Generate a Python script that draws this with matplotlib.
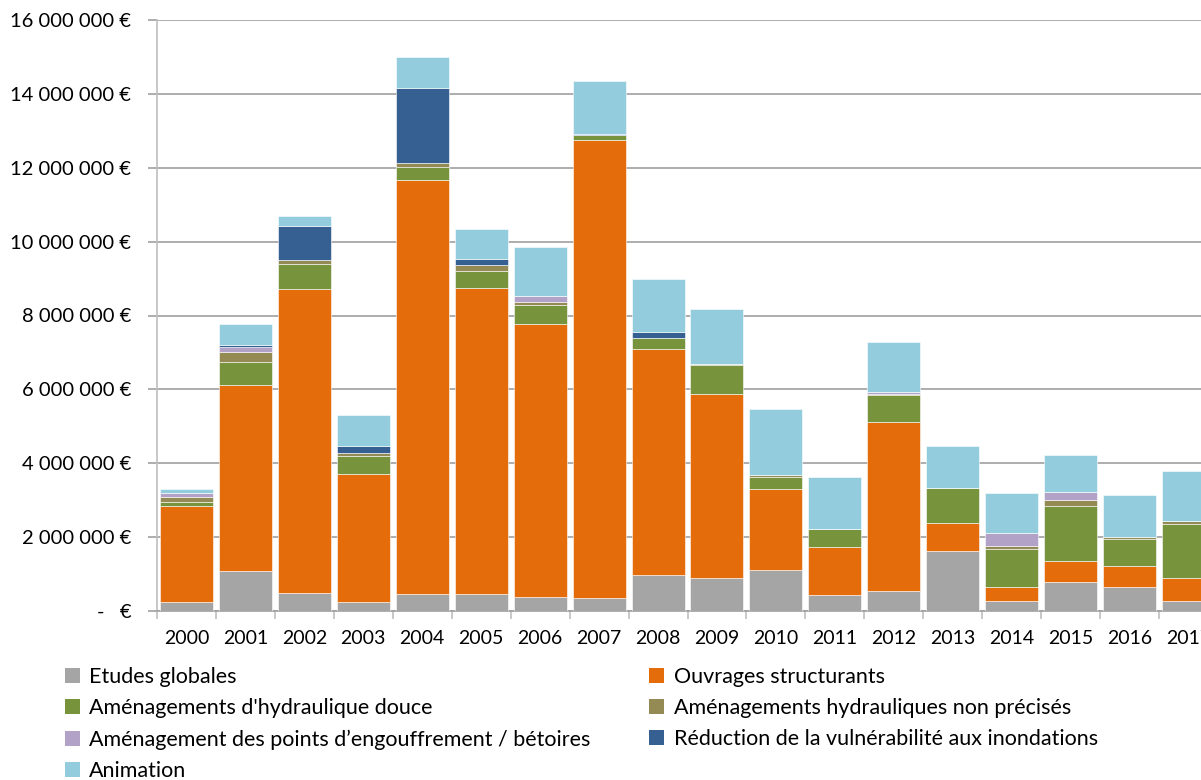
import numpy as np
import matplotlib.pyplot as plt
from matplotlib.patches import Patch

plt.rcParams['font.family'] = ['Lato', 'DejaVu Sans']

years = [str(y) for y in range(2000, 2018)]

# montants en millions d'euros
etudes = [0.25, 1.07, 0.50, 0.25, 0.45, 0.45, 0.38, 0.35, 0.97, 0.90, 1.12, 0.42, 0.54, 1.62, 0.26, 0.78, 0.64, 0.26]
ouvrages = [2.59, 5.04, 8.22, 3.47, 11.22, 8.30, 7.40, 12.40, 6.11, 4.98, 2.19, 1.32, 4.59, 0.76, 0.39, 0.57, 0.57, 0.64]
douce = [0.12, 0.63, 0.67, 0.48, 0.34, 0.46, 0.50, 0.14, 0.30, 0.79, 0.33, 0.49, 0.72, 0.96, 1.02, 1.50, 0.75, 1.46]
non_precises = [0.12, 0.28, 0.11, 0.08, 0.11, 0.15, 0.08, 0.00, 0.00, 0.02, 0.04, 0.00, 0.02, 0.00, 0.09, 0.15, 0.05, 0.08]
betoires = [0.11, 0.14, 0.00, 0.00, 0.02, 0.00, 0.17, 0.00, 0.00, 0.00, 0.00, 0.00, 0.06, 0.00, 0.35, 0.23, 0.00, 0.00]
vulnerabilite = [0.00, 0.05, 0.92, 0.20, 2.03, 0.18, 0.00, 0.02, 0.16, 0.00, 0.00, 0.00, 0.00, 0.00, 0.00, 0.00, 0.00, 0.00]
animation = [0.12, 0.56, 0.28, 0.82, 0.83, 0.81, 1.32, 1.43, 1.46, 1.49, 1.78, 1.39, 1.35, 1.12, 1.08, 0.99, 1.13, 1.35]

series = [
    ("Etudes globales", etudes, "#A5A5A5"),
    ("Ouvrages structurants", ouvrages, "#E46C0A"),
    ("Aménagements d'hydraulique douce", douce, "#77933C"),
    ("Aménagements hydrauliques non précisés", non_precises, "#948A54"),
    ("Aménagement des points d’engouffrement / bétoires", betoires, "#B3A2C7"),
    ("Réduction de la vulnérabilité aux inondations", vulnerabilite, "#376092"),
    ("Animation", animation, "#93CDDD"),
]

fig = plt.figure(figsize=(12.01, 7.8), dpi=100)
ax = fig.add_axes([157 / 1201, 169 / 780, 1061 / 1201, 591 / 780])

x = np.arange(len(years))
bottom = np.zeros(len(years))
for name, vals, col in series:
    v = np.array(vals) * 1e6
    ax.bar(x, v, width=0.9, bottom=bottom, color=col, edgecolor="white", linewidth=0.4, zorder=3)
    bottom += v

grid_col = "#A0A0A0"
ax.set_xlim(-0.5, len(years) - 0.5)
ax.set_ylim(0, 16e6)
ax.set_yticks(np.arange(0, 16.1e6, 2e6))
ylabels = []
for t in np.arange(0, 16.1e6, 2e6):
    if t == 0:
        ylabels.append("-   €")
    else:
        ylabels.append(f"{int(t):,}".replace(",", " ") + " €")
ax.set_yticklabels(ylabels)
ax.grid(axis="y", color=grid_col, linewidth=1.2, zorder=0)

ax.set_xticks(x)
ax.set_xticklabels(years)
ax.set_xticks(np.arange(-0.5, len(years)), minor=True)
ax.tick_params(axis="x", which="major", length=0, pad=14, labelsize=14, colors="black")
ax.tick_params(axis="x", which="minor", length=6, width=1.2, color="#BFBFBF")
ax.tick_params(axis="y", length=6.5, width=1.2, color=grid_col, pad=12, labelsize=14.5)

for s in ["top", "right"]:
    ax.spines[s].set_visible(False)
ax.spines["left"].set_color("#BFBFBF")
ax.spines["left"].set_linewidth(1.2)
ax.spines["bottom"].set_color(grid_col)
ax.spines["bottom"].set_linewidth(1.2)
ax.set_axisbelow(True)

handles = [Patch(facecolor=c, edgecolor="none", label=n) for n, _, c in series]
order = [0, 2, 4, 6, 1, 3, 5]
fig.legend([handles[i] for i in order], [handles[i].get_label() for i in order],
           ncol=2, loc="upper left", bbox_to_anchor=(56 / 1201, 1 - 658 / 780),
           frameon=False, fontsize=15.5, handlelength=0.7, handleheight=0.7,
           handletextpad=0.45, columnspacing=2.7, labelspacing=0.53, borderaxespad=0)

fig.savefig("out.png", dpi=100)
